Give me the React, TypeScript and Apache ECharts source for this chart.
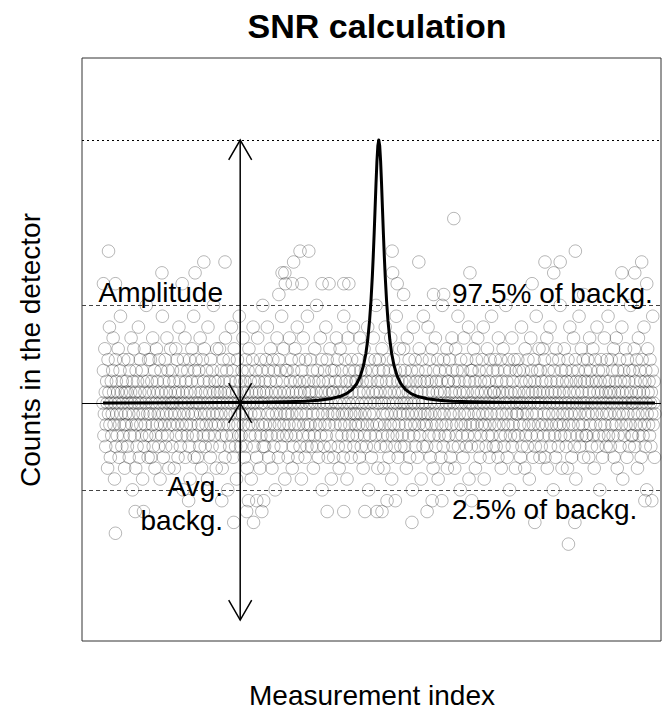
import React, { useEffect, useRef } from "react";
import * as echarts from "echarts";

const backgroundCounts: number[] = [
  18,21,15,17,23,19,14,16,20,18,12,22,17,19,25,16,13,18,20,15,17,21,24,19,16,11,18,22,14,20,17,15,19,23,18,13,16,21,26,17,19,14,20,18,15,22,16,12,19,17,
  16,20,19,14,18,22,17,13,21,15,19,24,18,16,10,20,17,23,15,18,19,12,21,16,14,20,18,25,17,13,19,22,16,18,15,21,11,17,20,14,23,19,16,18,27,15,20,17,13,22,
  19,15,17,22,13,18,20,16,24,14,19,17,21,12,18,15,23,16,20,19,17,14,22,18,11,16,21,19,15,26,17,13,20,18,16,22,14,19,17,24,15,21,18,12,20,16,19,23,17,18,
  14,21,18,16,20,12,17,19,23,15,18,22,16,13,19,25,17,20,14,18,21,15,16,19,10,22,17,18,24,13,20,16,19,15,21,17,18,14,22,11,19,16,20,23,17,15,18,26,13,21,
  17,19,22,15,18,13,20,16,21,18,14,24,17,19,12,16,22,18,15,20,23,17,14,19,16,21,18,11,25,15,17,20,19,13,22,16,18,14,21,17,27,19,15,20,16,18,12,23,17,19,
  20,16,18,23,14,19,17,21,15,12,18,22,16,20,19,13,24,17,15,21,18,10,19,16,22,14,20,17,18,25,15,19,21,13,16,23,18,17,14,20,11,19,22,16,18,15,26,17,20,14,
  15,18,21,17,24,16,19,13,20,18,22,14,17,12,19,21,16,23,18,15,20,17,11,19,16,22,25,18,14,20,17,15,21,19,13,18,24,16,20,17,19,12,22,15,18,21,16,27,14,19,
  18,14,20,16,22,19,15,25,17,21,13,18,16,20,23,15,19,12,17,22,18,14,21,16,10,19,20,17,24,15,18,13,22,16,19,21,17,14,26,18,20,15,23,16,19,11,17,21,18,15,
  21,17,13,19,16,24,18,20,15,22,17,12,19,14,21,18,16,23,20,15,19,17,25,13,18,16,22,20,14,19,17,11,21,18,15,24,16,20,19,13,22,17,18,14,26,16,20,15,19,18,
  16,22,19,14,18,21,17,12,20,15,23,18,16,19,27,14,21,17,13,20,18,16,24,15,19,22,10,17,20,18,14,21,16,19,25,15,18,22,17,13,20,16,19,23,14,18,11,21,17,19,
  19,13,17,21,16,20,18,24,15,22,17,14,19,12,18,23,16,20,21,15,17,19,13,26,18,16,22,14,20,17,11,19,24,15,18,21,16,20,17,13,22,19,15,18,25,14,17,21,16,20,
  17,20,15,18,22,16,19,13,24,17,21,14,18,20,16,12,19,23,15,17,21,18,14,20,16,25,19,10,22,17,15,18,20,13,21,16,19,24,17,14,18,22,15,27,19,16,20,12,18,21,
  22,16,19,14,20,18,23,15,17,21,12,18,16,25,19,14,20,17,22,15,18,13,21,19,16,24,17,11,20,15,18,22,16,19,14,21,17,26,18,15,20,13,19,16,23,17,21,14,18,20,
  15,19,17,23,18,14,21,16,20,12,18,24,17,19,15,22,13,20,16,18,21,17,10,19,25,15,18,16,22,14,20,17,19,13,21,18,16,23,15,20,17,11,19,22,18,14,26,16,20,17,
  18,21,16,14,20,17,25,19,15,22,18,13,17,20,16,23,19,12,21,15,18,17,24,14,20,16,19,22,11,18,15,21,17,19,13,20,16,27,18,14,22,17,19,15,21,16,18,23,12,20,
  20,15,18,22,17,13,19,16,24,21,14,18,17,20,12,19,23,15,16,21,18,26,14,20,17,19,10,22,16,18,15,21,13,19,24,17,20,16,18,14,22,19,15,17,25,11,20,18,16,21,
  14,18,21,16,19,23,17,15,20,12,18,22,16,19,24,14,17,21,18,13,20,15,19,16,22,17,25,18,11,20,16,19,14,21,17,23,15,18,20,13,16,22,19,17,26,15,18,21,14,19,
  19,16,22,18,14,20,17,21,13,24,16,19,18,15,22,12,20,17,19,23,16,14,21,18,15,27,17,20,13,19,16,22,18,10,21,15,19,17,24,14,20,16,18,22,15,19,12,21,17,18,
  17,22,15,19,21,16,18,13,20,25,14,18,17,21,16,19,12,23,15,20,18,17,14,22,19,16,11,20,18,24,15,21,17,19,13,16,22,18,20,14,19,26,17,15,21,18,16,23,19,13,
  21,18,14,20,16,23,19,15,17,22,13,18,20,16,24,12,19,21,17,15,18,25,14,20,16,19,22,17,10,18,21,15,19,13,23,16,20,18,17,14,22,19,16,27,15,18,21,12,20,17,
  16,19,23,15,18,21,14,20,17,12,22,18,16,19,25,15,20,17,13,21,18,16,24,19,14,17,22,11,20,18,15,19,21,16,26,17,14,20,18,23,15,19,16,22,13,18,20,17,21,15,
  18,15,20,22,17,13,19,24,16,21,18,14,20,17,23,15,19,12,18,22,16,20,17,25,14,19,21,15,18,10,20,16,22,19,17,13,21,18,15,24,16,20,19,14,17,22,18,26,15,19,
  20,17,14,19,22,16,18,21,15,23,13,19,17,20,16,24,18,12,21,15,19,17,22,14,20,18,16,25,19,11,17,21,15,20,18,23,16,19,13,22,17,18,20,14,21,16,27,19,15,18,
  15,21,18,17,23,14,20,16,19,22,18,12,17,24,15,19,21,16,20,13,18,22,17,15,19,25,16,20,14,21,18,10,17,23,19,16,20,15,22,18,14,19,17,21,26,16,18,20,13,17
];

// Isolated high points (index, count)
const highIndex: number[] = [2,13,28,129,173,201,220,266,383,390,396,397,412,415,429,433,448,477,492,524,535,629,630,640,654,687,719,741,763,798,933,961,980,994,1027,1045,1128,1156,1171,1182];
const highCount: number[] = [29,32,29,30,29,30,31,31,28,30,30,29,29,31,32,29,32,29,29,29,29,32,30,29,28,31,28,28,35,30,29,31,30,31,32,28,30,30,31,29];

// Isolated low points (index, count)
const lowIndex: number[] = [28,71,89,187,259,285,313,317,328,335,346,350,488,524,570,596,607,618,636,672,705,716,737,802,939,1012,1026,1178,1193];
const lowCount: number[] = [6,8,8,9,9,7,8,9,7,9,8,9,8,8,8,8,8,9,9,7,8,9,9,9,7,5,7,9,9];

// Fitted peak curve (index, expected counts)
const curveIndex: number[] = [1,150,260,340,400,440,470,495,515,530,542,552,560,567,572,576,580,583,586,588,590,592,594,596,598,600,602,604,606,608,610,612,614,617,620,624,628,633,640,648,658,670,685,705,730,760,800,860,940,1050,1200];
const curveCount: number[] = [18.01,18.02,18.04,18.07,18.11,18.17,18.26,18.39,18.6,18.87,19.25,19.78,20.48,21.48,22.57,23.83,25.59,27.37,29.68,31.54,33.65,35.94,38.24,40.28,41.72,42.24,41.72,40.28,38.24,35.94,33.65,31.54,29.68,27.37,25.59,23.83,22.57,21.48,20.48,19.78,19.25,18.87,18.6,18.39,18.26,18.17,18.11,18.07,18.04,18.02,18.01];

const avgBackground = 18;
const upperQuantile = 27;
const lowerQuantile = 10;
const peakCount = 42.24;
const arrowIndex = 299;
const arrowBottom = -2.0;

const FONT = '"Liberation Sans", Arial, Helvetica, sans-serif';

export default function App() {
  const ref = useRef<HTMLDivElement>(null);
  useEffect(() => {
    if (!ref.current) return;
    const chart = echarts.init(ref.current, undefined, { renderer: "svg" });

    const points: number[][] = backgroundCounts.map((v, i) => [i + 1, v]);
    highIndex.forEach((x, i) => points.push([x, highCount[i]]));
    lowIndex.forEach((x, i) => points.push([x, lowCount[i]]));
    const curve = curveIndex.map((x, i) => [x, curveCount[i]]);

    const textEl = (text: string, x: number, y: number, align: string, size: number, bold = false, rotation = 0) => ({
      type: "text",
      x,
      y,
      rotation,
      silent: true,
      z: 100,
      style: {
        text,
        align,
        verticalAlign: "middle",
        textAlign: align,
        textVerticalAlign: "middle",
        font: `${bold ? "bold " : ""}${size}px ${FONT}`,
        fill: "#000",
      },
    });

    const option: any = {
      animation: false,
      backgroundColor: "#fff",
      grid: {
        left: 82,
        right: 2,
        top: 58,
        bottom: 69,
        show: true,
        borderColor: "#333",
        borderWidth: 1,
        backgroundColor: "transparent",
      },
      xAxis: { type: "value", min: -44.6, max: 1213, show: false },
      yAxis: { type: "value", min: -3.93, max: 49.8, show: false },
      series: [
        {
          type: "scatter",
          data: points,
          symbol: "circle",
          symbolSize: 12.5,
          silent: true,
          z: 2,
          itemStyle: {
            color: "rgba(0,0,0,0)",
            borderColor: "rgba(0,0,0,0.36)",
            borderWidth: 1,
          },
        },
        {
          type: "line",
          data: curve,
          symbol: "none",
          silent: true,
          z: 5,
          lineStyle: { color: "#000", width: 3, join: "round" },
          markLine: {
            silent: true,
            symbol: ["none", "none"],
            label: { show: false },
            animation: false,
            data: [
              { yAxis: avgBackground, lineStyle: { color: "#000", width: 1, type: "solid" } },
              { yAxis: upperQuantile, lineStyle: { color: "#444", width: 1, type: [4, 3] } },
              { yAxis: lowerQuantile, lineStyle: { color: "#444", width: 1, type: [4, 3] } },
              { yAxis: peakCount, lineStyle: { color: "#000", width: 1, type: [2, 3] } },
            ],
          },
        },
        {
          type: "custom",
          silent: true,
          z: 6,
          encode: { x: 0, y: [1, 2] },
          data: [
            [arrowIndex, avgBackground, peakCount],
            [arrowIndex, avgBackground, arrowBottom],
          ],
          renderItem: (params: any, api: any) => {
            const x = api.value(0);
            const p0 = api.coord([x, api.value(1)]);
            const p1 = api.coord([x, api.value(2)]);
            const head = 23;
            const ang = Math.PI / 6;
            const headAt = (tip: number[], from: number[]) => {
              const dx = from[0] - tip[0];
              const dy = from[1] - tip[1];
              const len = Math.hypot(dx, dy) || 1;
              const ux = dx / len;
              const uy = dy / len;
              const c = Math.cos(ang);
              const s = Math.sin(ang);
              const a = [tip[0] + head * (ux * c - uy * s), tip[1] + head * (ux * s + uy * c)];
              const b = [tip[0] + head * (ux * c + uy * s), tip[1] + head * (-ux * s + uy * c)];
              return {
                type: "polyline",
                shape: { points: [a, tip, b] },
                style: { stroke: "#000", lineWidth: 1.5, fill: null },
              };
            };
            return {
              type: "group",
              children: [
                {
                  type: "line",
                  shape: { x1: p0[0], y1: p0[1], x2: p1[0], y2: p1[1] },
                  style: { stroke: "#000", lineWidth: 1.5 },
                },
                headAt(p0, p1),
                headAt(p1, p0),
              ],
            };
          },
        },
      ],
      graphic: [
        textEl("SNR calculation", 377, 26, "center", 34, true),
        textEl("Measurement index", 372, 695, "center", 28),
        textEl("Counts in the detector", 30, 350, "center", 28, false, Math.PI / 2),
        textEl("Amplitude", 223, 292, "right", 28),
        textEl("97.5% of backg.", 452, 293, "left", 28),
        textEl("Avg.", 223, 486, "right", 28),
        textEl("backg.", 223, 520, "right", 28),
        textEl("2.5% of backg.", 452, 509, "left", 28),
      ],
    };
    chart.setOption(option);
    return () => chart.dispose();
  }, []);

  return (
    <div
      ref={ref}
      style={{ position: "fixed", left: 0, top: 0, width: 663, height: 710, background: "#fff" }}
    />
  );
}
